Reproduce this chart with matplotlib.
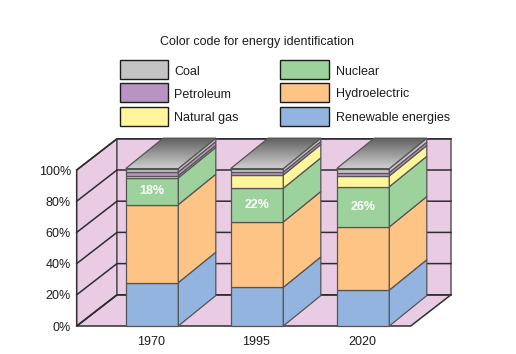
import numpy as np
import matplotlib
matplotlib.use('Agg')
import matplotlib.pyplot as plt
from matplotlib.patches import Polygon, Rectangle

plt.rcParams['font.family'] = ['Liberation Sans', 'DejaVu Sans']

years = ['1970', '1995', '2020']
sources = ['Renewable energies', 'Hydroelectric', 'Nuclear', 'Natural gas', 'Petroleum', 'Coal']
renewable = [27.8, 24.8, 23.0]
hydro = [50.0, 41.9, 40.5]
nuclear = [17.2, 21.6, 25.8]
gas = [1.3, 8.5, 6.9]
petroleum = [2.4, 1.9, 2.1]
coal = [2.2, 2.2, 2.6]
nuclear_labels = ['18%', '22%', '26%']
y_ticks = [0, 20, 40, 60, 80, 100]

colors = ['#93b4de', '#fdc486', '#9ed29c', '#fff59b', '#b993c1', '#c4c4c4']
wall = '#e9cce3'
line = '#2e2e2e'
ink = '#1c1c1c'

W, H = 516, 354
px_per_pct = 1.56
y0_px = 326

fig = plt.figure(figsize=(W/100, H/100), dpi=100)
ax = fig.add_axes([0, 0, 1, 1])
ax.axis('off')

# walls and floor, depth goes up and to the right
x_l, x_r = 76.7, 410.7
wall_dx, wall_dy = 40.3, 20
ax.add_patch(Polygon([(x_l, 0), (x_r, 0), (x_r + wall_dx, wall_dy), (x_l + wall_dx, wall_dy)],
                     fc=wall, ec=line, lw=1.1, zorder=1))
ax.add_patch(Polygon([(x_l, 0), (x_l + wall_dx, wall_dy), (x_l + wall_dx, 100 + wall_dy), (x_l, 100)],
                     fc=wall, ec=line, lw=1.1, zorder=1))
ax.add_patch(Rectangle((x_l + wall_dx, wall_dy), x_r - x_l, 100, fc=wall, ec='#5a5a5a', lw=1.1, zorder=1))
for t in y_ticks:
    ax.plot([x_l, x_l + wall_dx, x_r + wall_dx], [t, t + wall_dy, t + wall_dy],
            color=line, lw=1.1, zorder=2, solid_joinstyle='miter')
    ax.text(71, t - 1, '%d%%' % t, ha='right', va='center', fontsize=9, color=ink, zorder=6)

# bars
bar_left = [125.7, 230.7, 336.7]
bar_w = 52.6
bar_dx = 37.5
bar_dy = 19.5
edge = '#555555'
series = [renewable, hydro, nuclear, gas, petroleum, coal]
# first row is the front edge of the top face (light), last row the back (dark)
grad = np.linspace(1, 0, 64).reshape(-1, 1)

for i, year in enumerate(years):
    x0 = bar_left[i]
    x1 = x0 + bar_w
    bottom = 0
    for j, values in enumerate(series):
        top = bottom + values[i]
        ax.add_patch(Polygon([(x0, bottom), (x1, bottom), (x1, top), (x0, top)],
                             fc=colors[j], ec=edge, lw=0.9, zorder=3))
        ax.add_patch(Polygon([(x1, bottom), (x1 + bar_dx, bottom + bar_dy),
                              (x1 + bar_dx, top + bar_dy), (x1, top)],
                             fc=colors[j], ec=edge, lw=0.9, zorder=3))
        bottom = top
    cap = Polygon([(x0, top), (x1, top), (x1 + bar_dx, top + bar_dy), (x0 + bar_dx, top + bar_dy)],
                  fc='none', ec=edge, lw=0.9, zorder=5)
    ax.add_patch(cap)
    im = ax.imshow(grad, extent=(x0, x1 + bar_dx, top, top + bar_dy), origin='lower', aspect='auto',
                   cmap='gray', vmin=-0.864, vmax=1.41, zorder=4, interpolation='bilinear')
    im.set_clip_path(cap)

    mid = renewable[i] + hydro[i] + nuclear[i]/2
    ax.text(x0 + bar_w/2, mid, nuclear_labels[i], ha='center', va='center', color='white',
            fontsize=9, fontweight='bold', zorder=6)
    ax.text(x0 + bar_w/2 - 1, -10.5, year, ha='center', va='center', fontsize=9, color=ink, zorder=6)

ax.set_xlim(0, W)
ax.set_ylim(-(H - y0_px)/px_per_pct, y0_px/px_per_pct)

# legend block, in pixel coordinates
lg = fig.add_axes([0, 0, 1, 1])
lg.set_xlim(0, W)
lg.set_ylim(H, 0)
lg.axis('off')
lg.patch.set_alpha(0)
lg.text(257.5, 45, 'Color code for energy identification', ha='center', va='baseline',
        fontsize=9, color=ink)

legend_order = [['Coal', 'Petroleum', 'Natural gas'], ['Nuclear', 'Hydroelectric', 'Renewable energies']]
col_x = [119.5, 279.5]
col_w = [48, 49]
text_x = [174, 336]
row_y = [59.5, 82.5, 106.5]
text_y = [75, 97.5, 120.5]
for c, names in enumerate(legend_order):
    for r, name in enumerate(names):
        lg.add_patch(Rectangle((col_x[c], row_y[r]), col_w[c], 19, fc=colors[sources.index(name)],
                               ec=ink, lw=1.0))
        lg.text(text_x[c], text_y[r], name, ha='left', va='baseline', fontsize=9, color=ink)

fig.savefig('out.png', dpi=100)
